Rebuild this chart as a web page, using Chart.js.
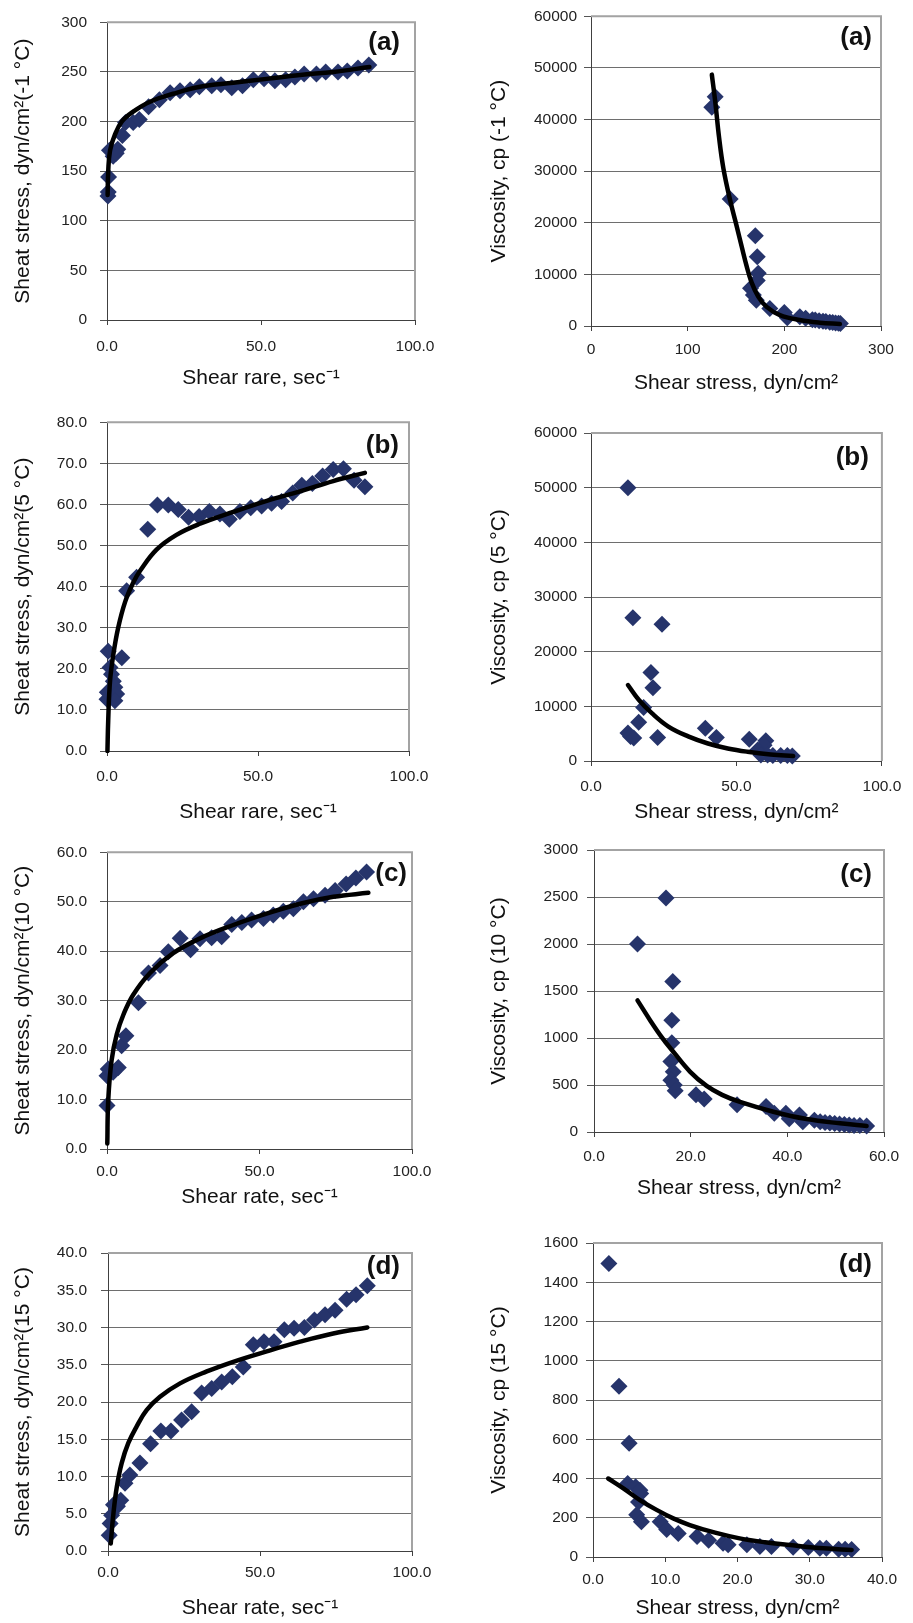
<!DOCTYPE html>
<html>
<head>
<meta charset="utf-8">
<script src="https://cdn.jsdelivr.net/npm/chart.js@4.4.1/dist/chart.umd.min.js"></script>
<style>
  html, body { margin: 0; padding: 0; background: #fff; }
  #page { position: relative; width: 913px; height: 1623px; overflow: hidden; background: #fff; }
  #page canvas { position: absolute; }
</style>
</head>
<body>
<div id="page"></div>
<script>
// ---- (a) -1 °C ----
const rateA = [0.3, 0.4, 0.5, 0.8, 2.0, 3.0, 3.5, 5.0, 6.0, 8.5, 10.5, 13.5, 17.0, 20.5, 23.7, 27.0, 30.0, 34.0, 37.0, 40.5, 44.0, 47.5, 51.0, 54.5, 58.0, 61.0, 64.0, 68.0, 71.0, 75.0, 78.0, 81.5, 85.0];
const stressA = [125, 129, 144, 171, 165, 168, 172, 186, 199, 199, 202, 215, 222, 229, 231, 232, 235, 236, 237, 234, 236, 242, 243, 241, 242, 245, 248, 248, 250, 250, 251, 254, 257];
const fitRateA = [0.2, 0.4, 1.0, 2.6, 4.8, 8.5, 14.0, 21.5, 30.2, 41.0, 51.8, 62.7, 73.5, 85.2];
const fitStressA = [126, 150, 171, 187, 200, 210, 220, 228, 235, 239, 243, 247, 250, 255];

const visStressA = [125, 128.5, 144, 170, 172, 173, 172, 165, 168, 171, 185, 200, 203, 216, 222, 229, 232, 236, 240, 243, 247, 250, 253, 256, 258];
const viscA = [42400, 44400, 24600, 17500, 13400, 10200, 8800, 7300, 6000, 5000, 3400, 2600, 1600, 1800, 1500, 1200, 1150, 1000, 900, 850, 750, 700, 600, 550, 500];
const fitVisStressA = [125, 128.5, 132.5, 137, 144, 150.5, 156, 161, 166, 173, 181.7, 195.4, 216, 236.8, 257.5];
const fitViscA = [48700, 43500, 36500, 30500, 24300, 19500, 15300, 11600, 8500, 5700, 3700, 2100, 1150, 640, 390];

// ---- (b) 5 °C ----
const rateB = [0.0, 0.1, 0.4, 1.0, 1.5, 2.1, 2.6, 3.2, 2.6, 4.9, 6.5, 9.8, 13.5, 16.7, 20.3, 23.6, 27.0, 30.5, 33.9, 37.4, 40.5, 44.0, 47.6, 51.2, 54.5, 57.8, 61.5, 64.5, 68.0, 71.4, 74.9, 78.3, 81.8, 85.4];
const stressB = [12.6, 14.3, 24.3, 20.3, 18.7, 17.0, 15.5, 13.9, 12.2, 22.7, 39.0, 42.3, 54.0, 59.9, 59.9, 58.8, 56.9, 57.1, 58.3, 57.7, 56.4, 58.3, 59.2, 59.6, 60.3, 60.7, 62.8, 64.7, 65.1, 66.9, 68.5, 68.7, 65.9, 64.3];
const fitRateB = [0.15, 0.4, 1.0, 2.1, 3.7, 6.0, 8.7, 10.9, 16.4, 23.0, 30.8, 41.8, 52.9, 63.9, 74.9, 85.4];
const fitStressB = [0, 7.4, 17.0, 23.5, 30.0, 36.3, 41.0, 43.8, 49.0, 52.6, 55.3, 58.2, 60.9, 63.2, 65.7, 67.7];

const visStressB = [12.7, 14.4, 24.4, 20.6, 21.3, 18.1, 16.4, 12.7, 13.6, 14.7, 22.9, 39.3, 43.1, 54.4, 60.1, 59.5, 57.3, 58.4, 60.7, 62.5, 65.2, 67.5, 69.2];
const viscB = [50000, 26200, 25000, 16200, 13400, 9800, 7100, 5100, 4500, 4200, 4300, 6000, 4300, 4000, 3700, 2900, 2000, 1100, 1100, 1000, 1000, 1000, 900];
const fitVisStressB = [12.7, 16.4, 21.0, 26.6, 33.4, 40.2, 47.0, 53.8, 61.8, 69.5];
const fitViscB = [13900, 11200, 8700, 6300, 4500, 3200, 2300, 1700, 1200, 900];

// ---- (c) 10 °C ----
const rateC = [0.0, 0.0, 0.4, 2.0, 3.7, 4.8, 6.2, 10.3, 13.6, 17.4, 20.1, 24.0, 27.4, 30.5, 34.3, 37.6, 40.9, 44.2, 47.4, 51.3, 54.5, 57.8, 61.1, 64.4, 67.7, 71.5, 74.8, 78.4, 81.6, 85.1];
const stressC = [8.8, 14.8, 16.2, 15.5, 16.5, 20.9, 22.9, 29.6, 35.6, 37.1, 39.9, 42.6, 40.3, 42.5, 42.7, 42.9, 45.4, 45.8, 46.3, 46.6, 47.3, 48.1, 48.6, 50.0, 50.6, 51.3, 52.3, 53.6, 54.8, 56.0];
const fitRateC = [0.1, 0.4, 1.5, 3.2, 5.4, 8.6, 14.1, 21.7, 30.5, 41.4, 52.3, 63.3, 74.2, 85.7];
const fitStressC = [1.1, 9.8, 17.9, 23.2, 27.2, 31.2, 35.6, 39.6, 42.6, 45.3, 47.6, 49.6, 51.0, 51.8];

const visStressC = [14.9, 9.0, 16.3, 16.1, 16.1, 15.9, 16.4, 15.9, 16.6, 16.8, 21.1, 22.8, 29.6, 35.6, 37.3, 39.7, 40.4, 42.5, 43.2, 45.6, 46.8, 47.8, 48.8, 49.8, 50.8, 51.8, 52.8, 53.8, 55.0, 56.4];
const viscC = [2490, 2000, 1600, 1190, 950, 750, 640, 550, 500, 440, 395, 350, 290, 270, 200, 200, 140, 180, 110, 125, 110, 100, 95, 90, 85, 80, 75, 70, 68, 64];
const fitVisStressC = [9.0, 11.6, 14.0, 16.4, 19.9, 23.3, 26.5, 30.2, 37.1, 44.0, 50.9, 56.4];
const fitViscC = [1400, 1190, 1010, 854, 640, 490, 395, 320, 216, 138, 92, 64];

// ---- (d) 15 °C ----
const rateD = [0.4, 0.7, 1.2, 1.8, 3.1, 4.2, 5.6, 7.2, 10.5, 14.0, 17.4, 20.7, 24.2, 27.5, 30.8, 34.1, 37.4, 40.9, 44.5, 47.8, 51.3, 54.6, 58.0, 61.2, 64.6, 67.9, 71.4, 74.7, 78.5, 81.6, 85.3];
const stressD = [2.1, 3.7, 4.8, 6.2, 6.0, 6.8, 9.1, 10.2, 11.8, 14.4, 16.1, 16.1, 17.6, 18.7, 21.2, 21.8, 22.7, 23.4, 24.7, 27.7, 28.1, 28.1, 29.7, 29.9, 30.0, 31.0, 31.7, 32.3, 33.8, 34.4, 35.6];
const fitRateD = [0.9, 1.8, 2.9, 4.5, 6.7, 9.4, 12.7, 17.1, 23.7, 32.5, 41.2, 52.2, 63.2, 74.1, 85.3];
const fitStressD = [1.0, 5.1, 8.6, 11.8, 14.5, 16.7, 18.9, 20.7, 22.5, 24.1, 25.4, 26.8, 28.1, 29.2, 30.0];

const visStressD = [2.2, 3.6, 5.0, 4.8, 5.9, 6.6, 6.5, 6.3, 6.05, 6.7, 9.3, 10.2, 11.8, 14.4, 16.0, 18.0, 18.7, 21.3, 23.1, 24.7, 27.7, 29.8, 31.4, 32.3, 34.0, 34.9, 35.8];
const viscD = [1495, 870, 580, 375, 358, 324, 340, 280, 215, 180, 180, 140, 120, 105, 85, 70, 62, 62, 53, 53, 50, 48, 45, 45, 40, 40, 38];
const fitVisStressD = [2.1, 4.2, 6.5, 8.8, 11.1, 13.4, 16.9, 20.3, 23.8, 27.3, 31.9, 35.8];
const fitViscD = [400, 350, 290, 240, 197, 163, 124, 95, 75, 61, 44, 36];

// ---- tick labels ----
const rateTicks = ["0.0", "50.0", "100.0"];
const stressTicksA = ["0", "50", "100", "150", "200", "250", "300"];
const viscTicks60k = ["0", "10000", "20000", "30000", "40000", "50000", "60000"];
const visStressTicksA = ["0", "100", "200", "300"];
const stressTicksB = ["0.0", "10.0", "20.0", "30.0", "40.0", "50.0", "60.0", "70.0", "80.0"];
const visStressTicksB = ["0.0", "50.0", "100.0"];
const stressTicksC = ["0.0", "10.0", "20.0", "30.0", "40.0", "50.0", "60.0"];
const viscTicksC = ["0", "500", "1000", "1500", "2000", "2500", "3000"];
const visStressTicksC = ["0.0", "20.0", "40.0", "60.0"];
const stressTicksD = ["0.0", "5.0", "10.0", "15.0", "20.0", "35.0", "30.0", "35.0", "40.0"];
const viscTicksD = ["0", "200", "400", "600", "800", "1000", "1200", "1400", "1600"];
const visStressTicksD = ["0.0", "10.0", "20.0", "30.0", "40.0"];

const FONT = "'Liberation Sans', Arial, sans-serif";
const MARKER = "#26346b";
const TICK_SIZE = 15.5;
const TITLE_SIZE = 21;

function makePanel(p) {
  const canvas = document.createElement("canvas");
  canvas.width = p.box.w;
  canvas.height = p.box.h;
  canvas.style.left = p.box.x + "px";
  canvas.style.top = p.box.y + "px";
  canvas.style.width = p.box.w + "px";
  canvas.style.height = p.box.h + "px";
  document.getElementById("page").appendChild(canvas);

  const yAxisW = p.plot.l - p.box.x;
  const xAxisH = p.box.y + p.box.h - p.plot.b;
  const titleHalf = TITLE_SIZE * 1.2 / 2;
  const tickHalf = TICK_SIZE * 1.2 / 2;

  // grey frame on top/right of the plot + the panel letter
  const frame = {
    id: "frame",
    beforeDatasetsDraw(chart) {
      const a = chart.chartArea;
      const ctx = chart.ctx;
      ctx.save();
      ctx.strokeStyle = "#a3a3a3";
      ctx.lineWidth = 2;
      ctx.beginPath();
      ctx.moveTo(a.left, a.top);
      ctx.lineTo(a.right, a.top);
      ctx.lineTo(a.right, a.bottom);
      ctx.stroke();
      ctx.restore();
    },
    afterDraw(chart) {
      const a = chart.chartArea;
      const ctx = chart.ctx;
      ctx.save();
      ctx.font = "bold 26px " + FONT;
      ctx.fillStyle = "#111";
      ctx.textAlign = "right";
      ctx.textBaseline = "middle";
      ctx.fillText(p.tag, a.right - p.tagRight, a.top + p.tagDy);
      ctx.restore();
    }
  };

  new Chart(canvas.getContext("2d"), {
    type: "scatter",
    data: {
      datasets: [
        {
          data: p.fitX.map((x, i) => ({ x: x, y: p.fitY[i] })),
          showLine: true,
          borderColor: "#000",
          borderWidth: 4.5,
          borderCapStyle: "round",
          borderJoinStyle: "round",
          pointRadius: 0,
          tension: 0.4,
          fill: false,
          clip: false,
          order: 0,
        },
        {
          data: p.xs.map((x, i) => ({ x: x, y: p.ys[i] })),
          showLine: false,
          pointStyle: "rectRot",
          pointRadius: 8.5,
          backgroundColor: MARKER,
          borderColor: MARKER,
          borderWidth: 0,
          clip: false,
          order: 1,
        },
      ],
    },
    options: {
      responsive: false,
      animation: false,
      devicePixelRatio: 1,
      layout: {
        padding: {
          left: 0,
          top: p.plot.t - p.box.y,
          right: p.box.x + p.box.w - p.plot.r,
          bottom: 0,
        },
      },
      plugins: {
        legend: { display: false },
        tooltip: { enabled: false },
      },
      scales: {
        x: {
          type: "linear",
          position: "bottom",
          min: p.xMin,
          max: p.xMax,
          ticks: {
            stepSize: p.xStep,
            autoSkip: false,
            maxRotation: 0,
            padding: p.xLabelGap - 5 - tickHalf,
            color: "#222",
            font: { family: FONT, size: TICK_SIZE },
            callback: (v, i) => p.xLabels[i],
          },
          grid: {
            drawOnChartArea: false,
            drawTicks: true,
            tickLength: 5,
            tickColor: "#404040",
          },
          border: { display: true, color: "#404040", width: 1 },
          title: {
            display: true,
            text: p.xTitle,
            color: "#111",
            font: { family: FONT, size: TITLE_SIZE },
            padding: { top: 0, bottom: p.xTitleGap - titleHalf },
          },
          afterFit: (s) => { s.height = xAxisH; },
        },
        y: {
          type: "linear",
          min: p.yMin,
          max: p.yMax,
          ticks: {
            stepSize: p.yStep,
            autoSkip: false,
            padding: p.yLabelGap - 7,
            color: "#222",
            font: { family: FONT, size: TICK_SIZE },
            callback: (v, i) => p.yLabels[i],
          },
          grid: {
            color: "#6e6e6e",
            lineWidth: 1,
            drawTicks: true,
            tickLength: 7,
            tickColor: "#555",
          },
          border: { display: true, color: "#404040", width: 1 },
          title: {
            display: true,
            text: p.yTitle,
            color: "#111",
            font: { family: FONT, size: TITLE_SIZE },
            padding: { top: p.yTitleX - titleHalf, bottom: 0 },
          },
          afterFit: (s) => { s.width = yAxisW; },
        },
      },
    },
    plugins: [frame],
  });
}

// left column: shear stress vs shear rate; right column: viscosity vs shear stress
makePanel({
  box: { x: 0, y: 0, w: 456, h: 400 }, plot: { l: 107, t: 16, r: 415, b: 320 },
  xs: rateA, ys: stressA, fitX: fitRateA, fitY: fitStressA,
  xMin: 0, xMax: 100, xStep: 50, xLabels: rateTicks,
  yMin: 0, yMax: 300, yStep: 50, yLabels: stressTicksA,
  xTitle: "Shear rare, sec\u207B\u00B9", yTitle: "Sheat stress, dyn/cm\u00B2(-1 \u00B0C)",
  xLabelGap: 27, yLabelGap: 20, xTitleGap: 22, yTitleX: 23,
  tag: "(a)", tagRight: 15, tagDy: 21,
});
makePanel({
  box: { x: 456, y: 0, w: 457, h: 400 }, plot: { l: 591, t: 16, r: 881, b: 326 },
  xs: visStressA, ys: viscA, fitX: fitVisStressA, fitY: fitViscA,
  xMin: 0, xMax: 300, xStep: 100, xLabels: visStressTicksA,
  yMin: 0, yMax: 60000, yStep: 10000, yLabels: viscTicks60k,
  xTitle: "Shear stress, dyn/cm\u00B2", yTitle: "Viscosity, cp (-1 \u00B0C)",
  xLabelGap: 24, yLabelGap: 14, xTitleGap: 17, yTitleX: 43,
  tag: "(a)", tagRight: 9, tagDy: 22,
});
makePanel({
  box: { x: 0, y: 400, w: 456, h: 430 }, plot: { l: 107, t: 418, r: 409, b: 751 },
  xs: rateB, ys: stressB, fitX: fitRateB, fitY: fitStressB,
  xMin: 0, xMax: 100, xStep: 50, xLabels: rateTicks,
  yMin: 0, yMax: 80, yStep: 10, yLabels: stressTicksB,
  xTitle: "Shear rare, sec\u207B\u00B9", yTitle: "Sheat stress, dyn/cm\u00B2(5 \u00B0C)",
  xLabelGap: 26, yLabelGap: 20, xTitleGap: 18, yTitleX: 23,
  tag: "(b)", tagRight: 10, tagDy: 24,
});
makePanel({
  box: { x: 456, y: 400, w: 457, h: 430 }, plot: { l: 591, t: 433, r: 885, b: 761 },
  xs: visStressB, ys: viscB, fitX: fitVisStressB, fitY: fitViscB,
  xMin: 0, xMax: 100, xStep: 50, xLabels: visStressTicksB,
  yMin: 0, yMax: 60000, yStep: 10000, yLabels: viscTicks60k,
  xTitle: "Shear stress, dyn/cm\u00B2", yTitle: "Viscosity, cp (5 \u00B0C)",
  xLabelGap: 26, yLabelGap: 14, xTitleGap: 18, yTitleX: 43,
  tag: "(b)", tagRight: 13, tagDy: 25,
});
makePanel({
  box: { x: 0, y: 830, w: 456, h: 385 }, plot: { l: 107, t: 850, r: 412, b: 1149 },
  xs: rateC, ys: stressC, fitX: fitRateC, fitY: fitStressC,
  xMin: 0, xMax: 100, xStep: 50, xLabels: rateTicks,
  yMin: 0, yMax: 60, yStep: 10, yLabels: stressTicksC,
  xTitle: "Shear rate, sec\u207B\u00B9", yTitle: "Sheat stress, dyn/cm\u00B2(10 \u00B0C)",
  xLabelGap: 23, yLabelGap: 20, xTitleGap: 18, yTitleX: 23,
  tag: "(c)", tagRight: 5, tagDy: 22,
});
makePanel({
  box: { x: 456, y: 830, w: 457, h: 385 }, plot: { l: 594, t: 850, r: 884, b: 1132 },
  xs: visStressC, ys: viscC, fitX: fitVisStressC, fitY: fitViscC,
  xMin: 0, xMax: 60, xStep: 20, xLabels: visStressTicksC,
  yMin: 0, yMax: 3000, yStep: 500, yLabels: viscTicksC,
  xTitle: "Shear stress, dyn/cm\u00B2", yTitle: "Viscosity, cp (10 \u00B0C)",
  xLabelGap: 25, yLabelGap: 16, xTitleGap: 27, yTitleX: 43,
  tag: "(c)", tagRight: 12, tagDy: 25,
});
makePanel({
  box: { x: 0, y: 1215, w: 456, h: 408 }, plot: { l: 108, t: 1253, r: 412, b: 1551 },
  xs: rateD, ys: stressD, fitX: fitRateD, fitY: fitStressD,
  xMin: 0, xMax: 100, xStep: 50, xLabels: rateTicks,
  yMin: 0, yMax: 40, yStep: 5, yLabels: stressTicksD,
  xTitle: "Shear rate, sec\u207B\u00B9", yTitle: "Sheat stress, dyn/cm\u00B2(15 \u00B0C)",
  xLabelGap: 22, yLabelGap: 21, xTitleGap: 15, yTitleX: 23,
  tag: "(d)", tagRight: 12, tagDy: 14,
});
makePanel({
  box: { x: 456, y: 1215, w: 457, h: 408 }, plot: { l: 593, t: 1243, r: 882, b: 1557 },
  xs: visStressD, ys: viscD, fitX: fitVisStressD, fitY: fitViscD,
  xMin: 0, xMax: 40, xStep: 10, xLabels: visStressTicksD,
  yMin: 0, yMax: 1600, yStep: 200, yLabels: viscTicksD,
  xTitle: "Shear stress, dyn/cm\u00B2", yTitle: "Viscosity, cp (15 \u00B0C)",
  xLabelGap: 23, yLabelGap: 15, xTitleGap: 15, yTitleX: 43,
  tag: "(d)", tagRight: 10, tagDy: 22,
});
</script>
</body>
</html>
